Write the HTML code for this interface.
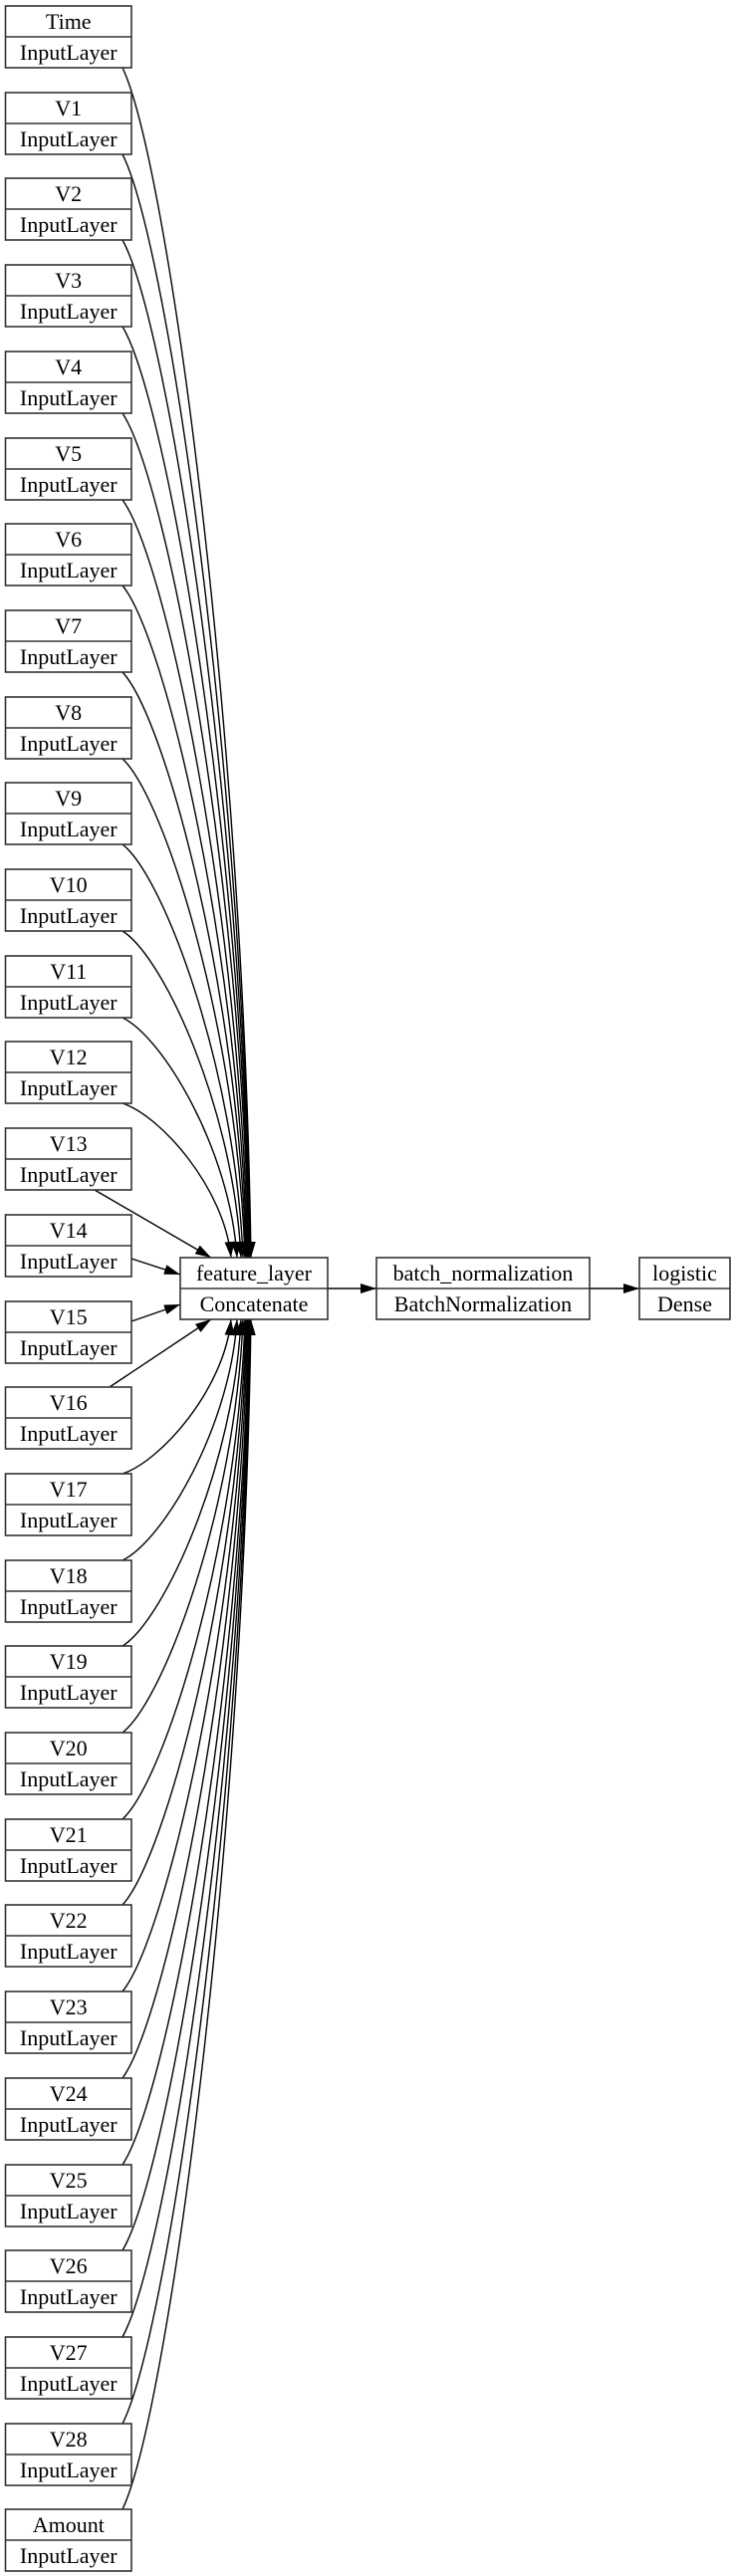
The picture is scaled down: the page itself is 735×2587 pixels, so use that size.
<!DOCTYPE html>
<html><head><meta charset="utf-8"><style>
html,body{margin:0;padding:0;background:#fff;}
svg{display:block;}
text{font-family:"Liberation Serif",serif;font-size:22px;fill:#000;text-anchor:middle;}
.n{fill:#fff;stroke:#333;stroke-width:1.6;}
.e{fill:none;stroke:#000;stroke-width:1.4;}
</style></head><body>
<svg width="735" height="2587" viewBox="0 0 735 2587" xmlns="http://www.w3.org/2000/svg">
<defs><marker id="a" markerUnits="userSpaceOnUse" markerWidth="17" markerHeight="11" refX="16" refY="5" orient="auto"><path d="M0,0 L16,5 L0,10 z" fill="#000"/></marker></defs>
<g class="edges">
<path class="e" marker-end="url(#a)" d="M123,68 C168.2,163.6 244.3,725.3 252,1263"/>
<path class="e" marker-end="url(#a)" d="M123,155 C168,243.6 243.8,764.4 251.5,1263"/>
<path class="e" marker-end="url(#a)" d="M123,241 C167.8,322.8 243.3,803.1 251,1263"/>
<path class="e" marker-end="url(#a)" d="M123,328 C167.6,402.8 242.9,842.3 250.5,1263"/>
<path class="e" marker-end="url(#a)" d="M123,415 C167.5,482.8 242.4,881.4 250,1263"/>
<path class="e" marker-end="url(#a)" d="M123,502 C167.1,562.9 241.4,920.6 249,1263"/>
<path class="e" marker-end="url(#a)" d="M123,588 C166.8,642 240.5,959.3 248,1263"/>
<path class="e" marker-end="url(#a)" d="M123,675 C166.4,722 239.6,998.4 247,1263"/>
<path class="e" marker-end="url(#a)" d="M123,762 C166.1,802.1 238.6,1037.6 246,1263"/>
<path class="e" marker-end="url(#a)" d="M123,848 C165.4,881.2 236.7,1076.3 244,1263"/>
<path class="e" marker-end="url(#a)" d="M123,935 C164.7,961.2 234.9,1115.4 242,1263"/>
<path class="e" marker-end="url(#a)" d="M123,1022 C163.3,1041.3 231.1,1154.6 238,1263"/>
<path class="e" marker-end="url(#a)" d="M123,1108 C161.2,1120.4 225.5,1193.3 232,1263"/>
<path class="e" marker-end="url(#a)" d="M95,1195 L212,1263"/>
<path class="e" marker-end="url(#a)" d="M132,1264 L181,1280"/>
<path class="e" marker-end="url(#a)" d="M132,1327 L181,1310"/>
<path class="e" marker-end="url(#a)" d="M110,1393 L212,1325"/>
<path class="e" marker-end="url(#a)" d="M123,1480 C161.2,1467.6 225.5,1394.8 232,1325"/>
<path class="e" marker-end="url(#a)" d="M123,1567 C163.3,1547.6 231.1,1433.9 238,1325"/>
<path class="e" marker-end="url(#a)" d="M123,1653 C164.7,1626.8 234.9,1472.6 242,1325"/>
<path class="e" marker-end="url(#a)" d="M123,1740 C165.4,1706.8 236.7,1511.8 244,1325"/>
<path class="e" marker-end="url(#a)" d="M123,1827 C166.1,1786.8 238.6,1550.9 246,1325"/>
<path class="e" marker-end="url(#a)" d="M123,1913 C166.4,1866 239.6,1589.6 247,1325"/>
<path class="e" marker-end="url(#a)" d="M123,2000 C166.8,1946 240.5,1628.8 248,1325"/>
<path class="e" marker-end="url(#a)" d="M123,2087 C167.1,2026 241.4,1667.9 249,1325"/>
<path class="e" marker-end="url(#a)" d="M123,2174 C167.5,2106.1 242.4,1707.1 250,1325"/>
<path class="e" marker-end="url(#a)" d="M123,2260 C167.6,2185.2 242.9,1745.8 250.5,1325"/>
<path class="e" marker-end="url(#a)" d="M123,2347 C167.8,2265.2 243.3,1784.9 251,1325"/>
<path class="e" marker-end="url(#a)" d="M123,2434 C168,2345.3 243.8,1824.1 251.5,1325"/>
<path class="e" marker-end="url(#a)" d="M123,2520 C168.2,2424.4 244.3,1862.8 252,1325"/>
<path class="e" marker-end="url(#a)" d="M329,1294 L378,1294"/>
<path class="e" marker-end="url(#a)" d="M592,1294 L642,1294"/>
</g>
<g>
<rect class="n" x="5.5" y="6" width="126.5" height="62"/><line class="n" x1="5.5" y1="37" x2="132" y2="37"/><text x="68.75" y="29">Time</text><text x="68.75" y="60">InputLayer</text>
<rect class="n" x="5.5" y="93" width="126.5" height="62"/><line class="n" x1="5.5" y1="124" x2="132" y2="124"/><text x="68.75" y="116">V1</text><text x="68.75" y="147">InputLayer</text>
<rect class="n" x="5.5" y="179" width="126.5" height="62"/><line class="n" x1="5.5" y1="210" x2="132" y2="210"/><text x="68.75" y="202">V2</text><text x="68.75" y="233">InputLayer</text>
<rect class="n" x="5.5" y="266" width="126.5" height="62"/><line class="n" x1="5.5" y1="297" x2="132" y2="297"/><text x="68.75" y="289">V3</text><text x="68.75" y="320">InputLayer</text>
<rect class="n" x="5.5" y="353" width="126.5" height="62"/><line class="n" x1="5.5" y1="384" x2="132" y2="384"/><text x="68.75" y="376">V4</text><text x="68.75" y="407">InputLayer</text>
<rect class="n" x="5.5" y="440" width="126.5" height="62"/><line class="n" x1="5.5" y1="471" x2="132" y2="471"/><text x="68.75" y="463">V5</text><text x="68.75" y="494">InputLayer</text>
<rect class="n" x="5.5" y="526" width="126.5" height="62"/><line class="n" x1="5.5" y1="557" x2="132" y2="557"/><text x="68.75" y="549">V6</text><text x="68.75" y="580">InputLayer</text>
<rect class="n" x="5.5" y="613" width="126.5" height="62"/><line class="n" x1="5.5" y1="644" x2="132" y2="644"/><text x="68.75" y="636">V7</text><text x="68.75" y="667">InputLayer</text>
<rect class="n" x="5.5" y="700" width="126.5" height="62"/><line class="n" x1="5.5" y1="731" x2="132" y2="731"/><text x="68.75" y="723">V8</text><text x="68.75" y="754">InputLayer</text>
<rect class="n" x="5.5" y="786" width="126.5" height="62"/><line class="n" x1="5.5" y1="817" x2="132" y2="817"/><text x="68.75" y="809">V9</text><text x="68.75" y="840">InputLayer</text>
<rect class="n" x="5.5" y="873" width="126.5" height="62"/><line class="n" x1="5.5" y1="904" x2="132" y2="904"/><text x="68.75" y="896">V10</text><text x="68.75" y="927">InputLayer</text>
<rect class="n" x="5.5" y="960" width="126.5" height="62"/><line class="n" x1="5.5" y1="991" x2="132" y2="991"/><text x="68.75" y="983">V11</text><text x="68.75" y="1014">InputLayer</text>
<rect class="n" x="5.5" y="1046" width="126.5" height="62"/><line class="n" x1="5.5" y1="1077" x2="132" y2="1077"/><text x="68.75" y="1069">V12</text><text x="68.75" y="1100">InputLayer</text>
<rect class="n" x="5.5" y="1133" width="126.5" height="62"/><line class="n" x1="5.5" y1="1164" x2="132" y2="1164"/><text x="68.75" y="1156">V13</text><text x="68.75" y="1187">InputLayer</text>
<rect class="n" x="5.5" y="1220" width="126.5" height="62"/><line class="n" x1="5.5" y1="1251" x2="132" y2="1251"/><text x="68.75" y="1243">V14</text><text x="68.75" y="1274">InputLayer</text>
<rect class="n" x="5.5" y="1307" width="126.5" height="62"/><line class="n" x1="5.5" y1="1338" x2="132" y2="1338"/><text x="68.75" y="1330">V15</text><text x="68.75" y="1361">InputLayer</text>
<rect class="n" x="5.5" y="1393" width="126.5" height="62"/><line class="n" x1="5.5" y1="1424" x2="132" y2="1424"/><text x="68.75" y="1416">V16</text><text x="68.75" y="1447">InputLayer</text>
<rect class="n" x="5.5" y="1480" width="126.5" height="62"/><line class="n" x1="5.5" y1="1511" x2="132" y2="1511"/><text x="68.75" y="1503">V17</text><text x="68.75" y="1534">InputLayer</text>
<rect class="n" x="5.5" y="1567" width="126.5" height="62"/><line class="n" x1="5.5" y1="1598" x2="132" y2="1598"/><text x="68.75" y="1590">V18</text><text x="68.75" y="1621">InputLayer</text>
<rect class="n" x="5.5" y="1653" width="126.5" height="62"/><line class="n" x1="5.5" y1="1684" x2="132" y2="1684"/><text x="68.75" y="1676">V19</text><text x="68.75" y="1707">InputLayer</text>
<rect class="n" x="5.5" y="1740" width="126.5" height="62"/><line class="n" x1="5.5" y1="1771" x2="132" y2="1771"/><text x="68.75" y="1763">V20</text><text x="68.75" y="1794">InputLayer</text>
<rect class="n" x="5.5" y="1827" width="126.5" height="62"/><line class="n" x1="5.5" y1="1858" x2="132" y2="1858"/><text x="68.75" y="1850">V21</text><text x="68.75" y="1881">InputLayer</text>
<rect class="n" x="5.5" y="1913" width="126.5" height="62"/><line class="n" x1="5.5" y1="1944" x2="132" y2="1944"/><text x="68.75" y="1936">V22</text><text x="68.75" y="1967">InputLayer</text>
<rect class="n" x="5.5" y="2000" width="126.5" height="62"/><line class="n" x1="5.5" y1="2031" x2="132" y2="2031"/><text x="68.75" y="2023">V23</text><text x="68.75" y="2054">InputLayer</text>
<rect class="n" x="5.5" y="2087" width="126.5" height="62"/><line class="n" x1="5.5" y1="2118" x2="132" y2="2118"/><text x="68.75" y="2110">V24</text><text x="68.75" y="2141">InputLayer</text>
<rect class="n" x="5.5" y="2174" width="126.5" height="62"/><line class="n" x1="5.5" y1="2205" x2="132" y2="2205"/><text x="68.75" y="2197">V25</text><text x="68.75" y="2228">InputLayer</text>
<rect class="n" x="5.5" y="2260" width="126.5" height="62"/><line class="n" x1="5.5" y1="2291" x2="132" y2="2291"/><text x="68.75" y="2283">V26</text><text x="68.75" y="2314">InputLayer</text>
<rect class="n" x="5.5" y="2347" width="126.5" height="62"/><line class="n" x1="5.5" y1="2378" x2="132" y2="2378"/><text x="68.75" y="2370">V27</text><text x="68.75" y="2401">InputLayer</text>
<rect class="n" x="5.5" y="2434" width="126.5" height="62"/><line class="n" x1="5.5" y1="2465" x2="132" y2="2465"/><text x="68.75" y="2457">V28</text><text x="68.75" y="2488">InputLayer</text>
<rect class="n" x="5.5" y="2520" width="126.5" height="62"/><line class="n" x1="5.5" y1="2551" x2="132" y2="2551"/><text x="68.75" y="2543">Amount</text><text x="68.75" y="2574">InputLayer</text>

<rect class="n" x="181" y="1263" width="148" height="62"/><line class="n" x1="181" y1="1294" x2="329" y2="1294"/><text x="255" y="1286">feature_layer</text><text x="255" y="1317">Concatenate</text>
<rect class="n" x="378" y="1263" width="214" height="62"/><line class="n" x1="378" y1="1294" x2="592" y2="1294"/><text x="485" y="1286">batch_normalization</text><text x="485" y="1317">BatchNormalization</text>
<rect class="n" x="642" y="1263" width="91" height="62"/><line class="n" x1="642" y1="1294" x2="733" y2="1294"/><text x="687.5" y="1286">logistic</text><text x="687.5" y="1317">Dense</text>
</g>
</svg>
</body></html>
